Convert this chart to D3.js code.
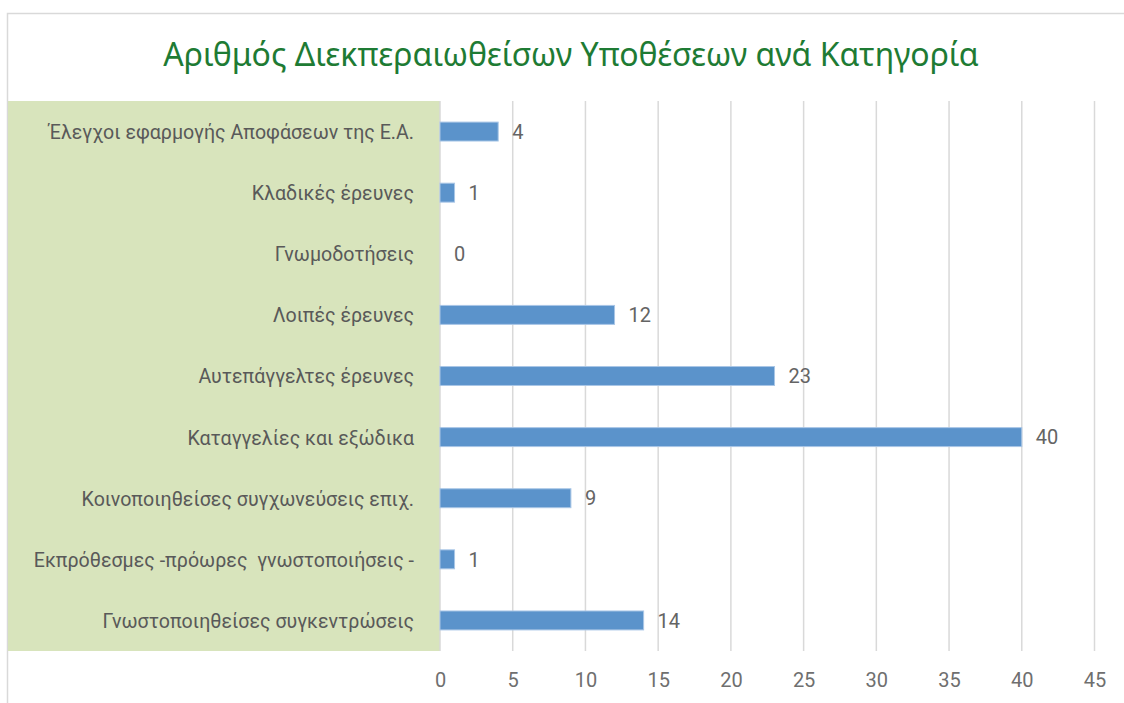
<!DOCTYPE html>
<html>
<head>
  <meta charset="utf-8">
  <title>chart</title>
  <style>
    body { margin: 0; background: #fff; }
    .grid line { stroke: #d9d9d9; stroke-width: 1.5; }
    .axis text { font-family: Roboto, sans-serif; font-size: 20px; fill: #6f6f6f; }
    .cat { font-family: Roboto, sans-serif; font-size: 19.6px; fill: #595959; text-anchor: end; white-space: pre; }
    .val { font-family: Roboto, sans-serif; font-size: 20px; fill: #646464; }
    .title { font-family: "Noto Sans", sans-serif; font-size: 32px; fill: #1e7b34; text-anchor: middle; }
  </style>
</head>
<body>
<script src="https://d3js.org/d3.v7.min.js"></script>
<script>
  var width = 1124,
      height = 703;

  var categories = [
    'Έλεγχοι εφαρμογής Αποφάσεων της Ε.Α.',
    'Κλαδικές έρευνες',
    'Γνωμοδοτήσεις',
    'Λοιπές έρευνες',
    'Αυτεπάγγελτες έρευνες',
    'Καταγγελίες και εξώδικα',
    'Κοινοποιηθείσες συγχωνεύσεις επιχ.',
    'Εκπρόθεσμες -πρόωρες  γνωστοποιήσεις -',
    'Γνωστοποιηθείσες συγκεντρώσεις'
  ];
  var values = [4, 1, 0, 12, 23, 40, 9, 1, 14];
  var ticks = [0, 5, 10, 15, 20, 25, 30, 35, 40, 45];

  var plot = {left: 440, right: 1094.5, top: 101, bottom: 651};

  var svg = d3.select('body')
    .append('svg')
    .attr('width', width)
    .attr('height', height);

  // chart frame
  svg.append('path')
    .attr('d', 'M7.5,' + height + 'V13.5H' + width)
    .attr('fill', 'none')
    .attr('stroke', '#d9d9d9')
    .attr('stroke-width', 1.5);

  svg.append('text')
    .attr('class', 'title')
    .attr('x', 571)
    .attr('y', 66)
    .text('Αριθμός Διεκπεραιωθείσων Υποθέσεων ανά Κατηγορία');

  // green label panel
  svg.append('rect')
    .attr('x', 8)
    .attr('y', plot.top)
    .attr('width', plot.left - 8)
    .attr('height', plot.bottom - plot.top)
    .attr('fill', '#d8e4bc');

  var xScale = d3.scaleLinear()
    .domain([0, 45])
    .range([plot.left, plot.right]);

  var yScale = d3.scaleBand()
    .domain(categories)
    .range([plot.top, plot.bottom])
    .paddingInner(0.69)
    .paddingOuter(0.345);

  svg.append('g')
    .attr('class', 'grid')
    .selectAll('line')
    .data(ticks)
    .enter()
    .append('line')
    .attr('x1', function(d) { return xScale(d); })
    .attr('x2', function(d) { return xScale(d); })
    .attr('y1', plot.top)
    .attr('y2', plot.bottom);

  var xAxis = d3.axisBottom(xScale)
    .tickValues(ticks)
    .tickSize(0)
    .tickPadding(0);

  var xAxisG = svg.append('g')
    .attr('class', 'axis')
    .attr('transform', 'translate(0,' + (plot.bottom + 22) + ')')
    .call(xAxis);
  xAxisG.select('.domain').remove();

  svg.selectAll('.bar')
    .data(values)
    .enter()
    .append('rect')
    .attr('class', 'bar')
    .attr('x', xScale(0))
    .attr('y', function(d, i) { return yScale(categories[i]); })
    .attr('width', function(d) { return xScale(d) - xScale(0); })
    .attr('height', yScale.bandwidth())
    .attr('fill', '#5b93cb')
    .attr('stroke', function(d) { return d > 0 ? '#a9c6e6' : 'none'; })
    .attr('stroke-width', 1);

  svg.selectAll('.val')
    .data(values)
    .enter()
    .append('text')
    .attr('class', 'val')
    .attr('x', function(d) { return xScale(d) + 14; })
    .attr('y', function(d, i) { return yScale(categories[i]) + yScale.bandwidth() / 2; })
    .attr('dy', '0.36em')
    .text(function(d) { return d; });

  svg.selectAll('.cat')
    .data(categories)
    .enter()
    .append('text')
    .attr('class', 'cat')
    .attr('x', 414)
    .attr('y', function(d) { return yScale(d) + yScale.bandwidth() / 2; })
    .attr('dy', '0.38em')
    .text(function(d) { return d; });
</script>
</body>
</html>
